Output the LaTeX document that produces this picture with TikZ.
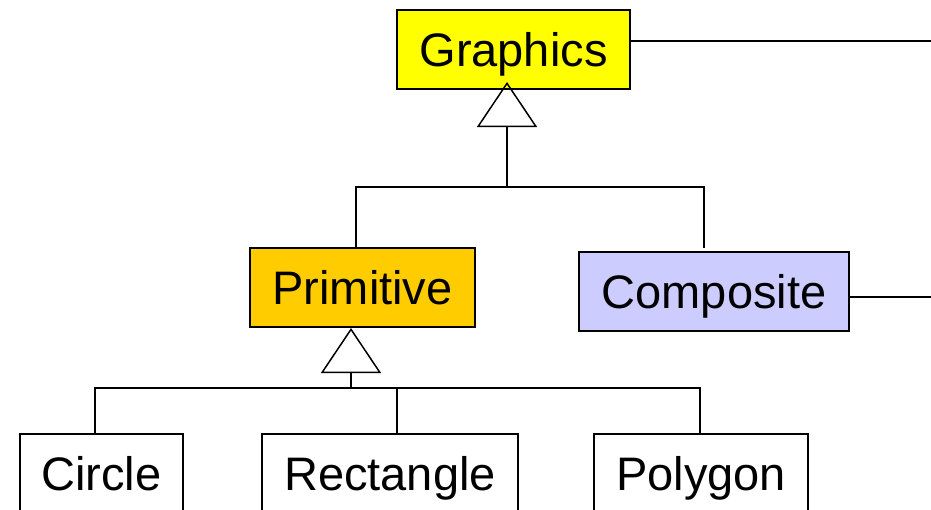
\documentclass[tikz,border=0pt]{standalone}
\usepackage{fontspec}
\setmainfont{Liberation Sans}
\usetikzlibrary{arrows.meta,calc}
\definecolor{gfxyellow}{HTML}{FFFF00}
\definecolor{primorange}{HTML}{FFCC00}
\definecolor{complilac}{HTML}{CCCCFF}
\begin{document}
\begin{tikzpicture}[x=1pt,y=-1pt,
  cls/.style={draw=black, line width=1.8pt, minimum height=79pt, inner sep=0pt,
              text height=33.6pt, text depth=0pt,
              font=\fontsize{47}{56}\selectfont},
  wire/.style={line width=1.5pt},
  gen/.style={wire, -{Triangle[open, length=45pt, width=60pt]}}]
\useasboundingbox (0,0) rectangle (931,509);
\clip (0,0) rectangle (931,509);

% classes
\node[cls, fill=gfxyellow, minimum width=233pt] (graphics) at (513.5,49.5) {Graphics};
\node[cls, fill=primorange, minimum width=225pt] (primitive) at (362.5,287.5) {Primitive};
\node[cls, fill=complilac, minimum width=270pt] (composite) at (714,291.5) {Composite};
\node[cls, fill=white, minimum width=163pt, minimum height=80pt] (circle) at (101.5,474) {Circle};
\node[cls, fill=white, minimum width=256pt, minimum height=80pt] (rectangle) at (390,474) {Rectangle};
\node[cls, fill=white, minimum width=214pt, minimum height=80pt] (polygon) at (701,474) {Polygon};

% generalisation Primitive/Composite -> Graphics
\coordinate (gtip) at (507,82);
\coordinate (gbar) at (507,187);
\coordinate (gL) at (356,187);
\coordinate (gR) at (704,187);
\coordinate (cTop) at (704,248);
\draw[gen] (gbar) -- (gtip);
\draw[wire] (primitive.north -| gL) -- (gL) -- (gR) -- (cTop);

% generalisation Circle/Rectangle/Polygon -> Primitive
\coordinate (ptip) at (351,328);
\coordinate (pbar) at (351,388);
\coordinate (pL) at (95,388);
\coordinate (pM) at (397,388);
\coordinate (pR) at (700,388);
\draw[gen] (pbar) -- (ptip);
\draw[wire] (circle.north -| pL) -- (pL) -- (pR) -- (polygon.north -| pR);
\draw[wire] (pM) -- (rectangle.north -| pM);

% associations leaving to the right
\coordinate (gout) at (931,41);
\coordinate (cout) at (931,297);
\draw[wire] (graphics.east |- gout) -- (gout);
\draw[wire] (composite.east |- cout) -- (cout);
\end{tikzpicture}
\end{document}
